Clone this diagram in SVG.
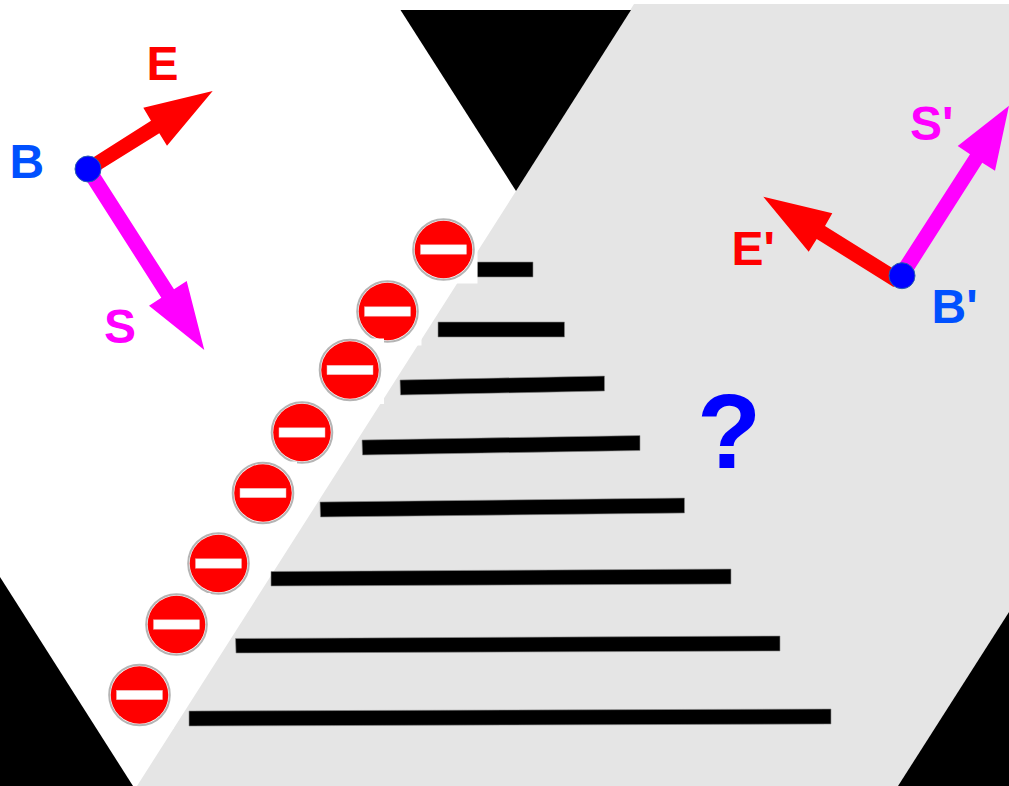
<svg xmlns="http://www.w3.org/2000/svg" width="1009" height="786" viewBox="0 0 1009 786">
<style>
.lbl{font-family:"Liberation Sans",Arial,sans-serif;font-weight:700;font-size:48px}
.red{fill:#ff0000}.mag{fill:#ff00ff}.blu{fill:#0050ff}
.bar{fill:#000;stroke:#8a8a8a;stroke-width:.6}
.dot{fill:#0000ff;stroke:#2a5db0;stroke-width:1}
</style>
<defs>
<g id="sign">
<rect x="-30.500" y="-31.500" width="64.500" height="65.500" fill="#fff"/>
<circle r="30.300" fill="#fff" stroke="#b4b4b4" stroke-width="2"/>
<circle r="28.800" fill="#ff0000"/>
<rect x="-23" y="-4.700" width="46" height="9.400" fill="#fff" stroke="#f4b0b0" stroke-width=".5"/>
</g>
</defs>
<rect id="background" width="1009" height="786" fill="#fff"/>
<g id="regions">
<polygon id="grey-region" points="634,4 1009,4 1009,612 898,786 137,786 516,191" fill="#e5e5e5"/>
<polygon id="top-wedge" points="400.500,10 631,10 516,191" fill="#000"/>
<polygon id="bottom-left-wedge" points="0,577 133,786 0,786" fill="#000"/>
<polygon id="bottom-right-wedge" points="1009,612 898,786 1009,786" fill="#000"/>
</g>
<g id="bars">
<polygon class="bar" points="477,262 533,262 533,277 477,277"/>
<polygon class="bar" points="438,322 564.500,322 564.500,337 438,337"/>
<polygon class="bar" points="400,380 604.500,376 604.500,391 400.500,395"/>
<polygon class="bar" points="362,440 640,435.500 640,450.500 362.500,455"/>
<polygon class="bar" points="320,502 684.500,498 684.500,513 320.500,517"/>
<polygon class="bar" points="271,571.500 731,569 731,584 271,586"/>
<polygon class="bar" points="235.500,638.500 780,636 780,651 236,653"/>
<polygon class="bar" points="189,711 831,709 831,724 189,726"/>
</g>
<g id="signs">
<use id="sign-1" href="#sign" x="443.500" y="249.500"/>
<use id="sign-2" href="#sign" x="387.500" y="311.500"/>
<use id="sign-3" href="#sign" x="350" y="370"/>
<use id="sign-4" href="#sign" x="302" y="432.500"/>
<use id="sign-5" href="#sign" x="263" y="493"/>
<use id="sign-6" href="#sign" x="218.500" y="563.500"/>
<use id="sign-7" href="#sign" x="176.500" y="624.500"/>
<use id="sign-8" href="#sign" x="139.500" y="695"/>
</g>
<g id="connectors">
<polygon class="red" points="88,160.700 151,120.700 143.300,107.700 212.700,91 167,145.700 159.300,133.300 95,173.300"/>
<polygon class="mag" points="95,166 174,289.300 186.700,281 204.300,350 149,305.700 161.300,297.700 81,172"/>
<polygon class="mag" points="893,273.700 970,154.300 957.700,146 1009,105.700 995,170.700 982.300,162.700 905,284"/>
<polygon class="red" points="893.500,287 816.700,239 808.700,251.700 763.300,196.700 832.300,213.300 825,226 902,274"/>
</g>
<g id="node-B">
<circle class="dot" cx="88" cy="169" r="13"/>
<text class="lbl blu" x="9.500" y="178">B</text>
</g>
<g id="node-B-prime">
<circle class="dot" cx="902" cy="275.700" r="13"/>
<text class="lbl blu" x="931.500" y="323">B'</text>
</g>
<g id="labels">
<text class="lbl red" x="146.500" y="80">E</text>
<text class="lbl mag" x="104" y="343">S</text>
<text class="lbl mag" x="910" y="140">S'</text>
<text class="lbl red" x="731.500" y="265">E'</text>
<text id="question" x="697" y="468" font-family="'Liberation Sans',Arial,sans-serif" font-weight="700" font-size="105" fill="#0000ff">?</text>
</g>
</svg>
